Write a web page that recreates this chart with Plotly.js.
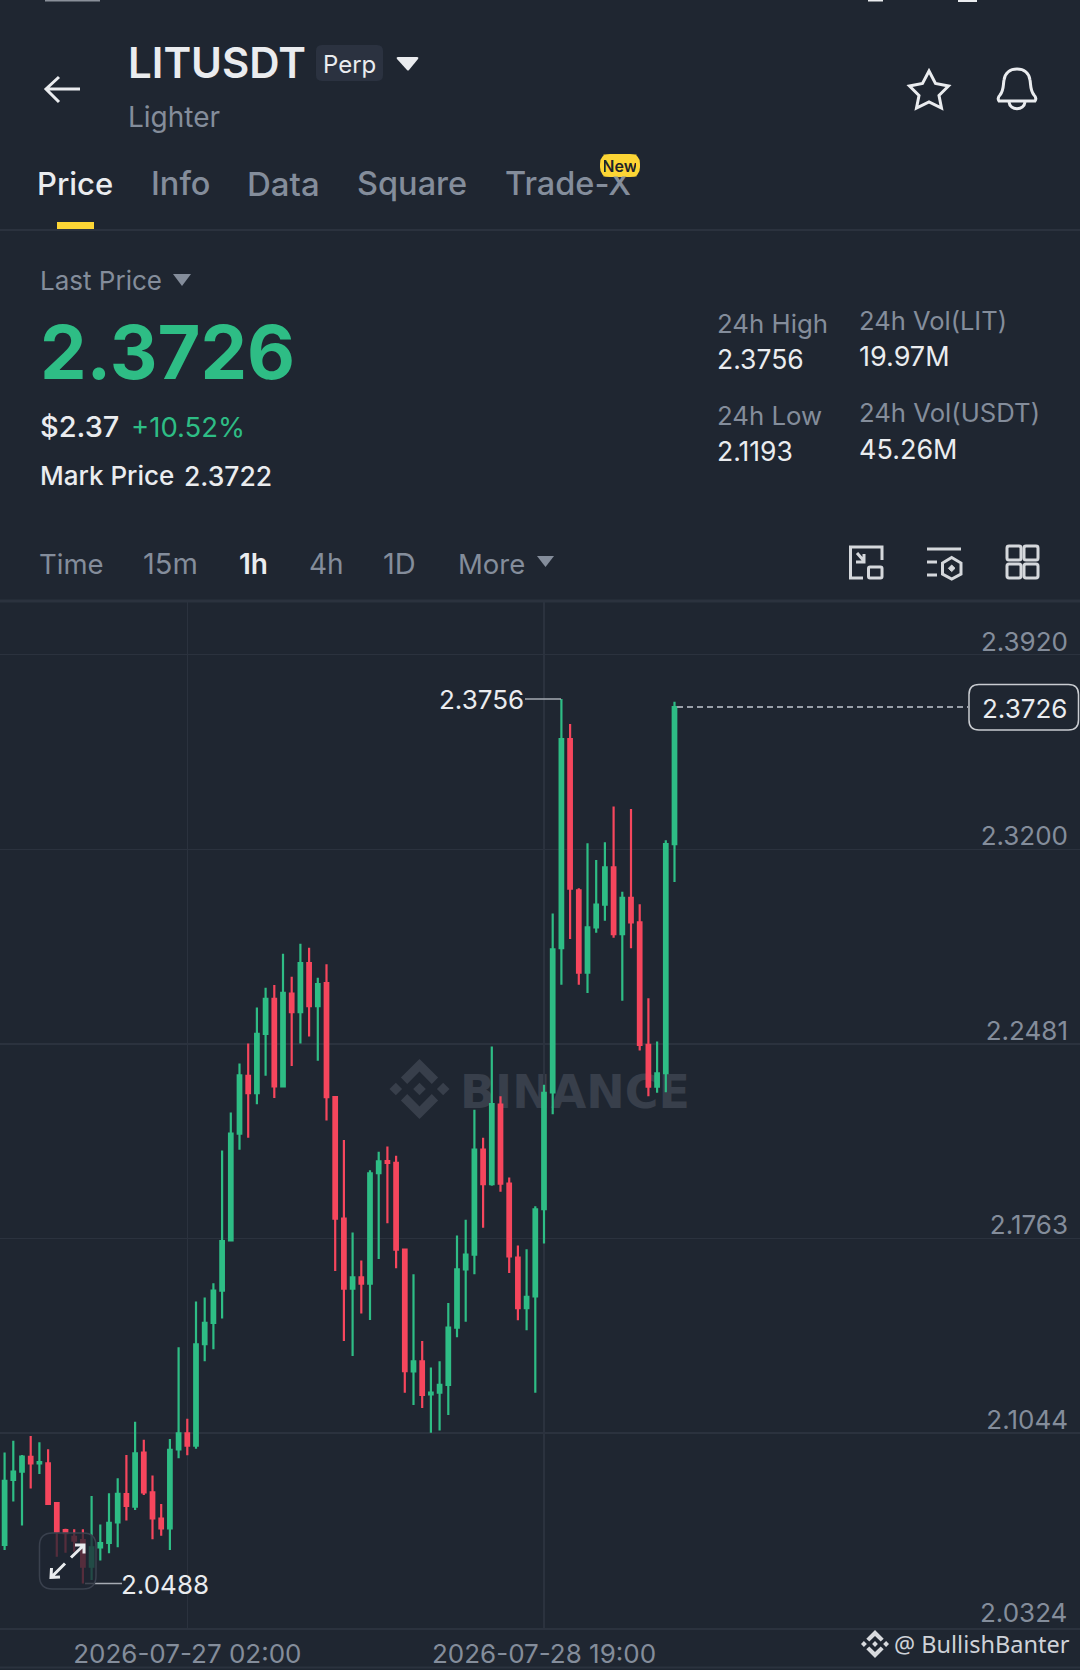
<!DOCTYPE html>
<html><head><meta charset="utf-8">
<script src="https://cdn.plot.ly/plotly-3.0.1.min.js"></script>
<style>html,body{margin:0;padding:0;background:#1f2631;width:1080px;height:1670px;overflow:hidden}#c{width:1080px;height:1670px}svg text{font-variant-numeric:tabular-nums}</style>
</head><body><div id="c"></div>
<script>
const times=["2026-07-26 05:00","2026-07-26 06:00","2026-07-26 07:00","2026-07-26 08:00","2026-07-26 09:00","2026-07-26 10:00","2026-07-26 11:00","2026-07-26 12:00","2026-07-26 13:00","2026-07-26 14:00","2026-07-26 15:00","2026-07-26 16:00","2026-07-26 17:00","2026-07-26 18:00","2026-07-26 19:00","2026-07-26 20:00","2026-07-26 21:00","2026-07-26 22:00","2026-07-26 23:00",
"2026-07-27 00:00","2026-07-27 01:00","2026-07-27 02:00","2026-07-27 03:00","2026-07-27 04:00","2026-07-27 05:00","2026-07-27 06:00","2026-07-27 07:00","2026-07-27 08:00","2026-07-27 09:00","2026-07-27 10:00","2026-07-27 11:00","2026-07-27 12:00","2026-07-27 13:00","2026-07-27 14:00","2026-07-27 15:00","2026-07-27 16:00","2026-07-27 17:00","2026-07-27 18:00","2026-07-27 19:00","2026-07-27 20:00","2026-07-27 21:00","2026-07-27 22:00","2026-07-27 23:00",
"2026-07-28 00:00","2026-07-28 01:00","2026-07-28 02:00","2026-07-28 03:00","2026-07-28 04:00","2026-07-28 05:00","2026-07-28 06:00","2026-07-28 07:00","2026-07-28 08:00","2026-07-28 09:00","2026-07-28 10:00","2026-07-28 11:00","2026-07-28 12:00","2026-07-28 13:00","2026-07-28 14:00","2026-07-28 15:00","2026-07-28 16:00","2026-07-28 17:00","2026-07-28 18:00","2026-07-28 19:00","2026-07-28 20:00","2026-07-28 21:00","2026-07-28 22:00","2026-07-28 23:00",
"2026-07-29 00:00","2026-07-29 01:00","2026-07-29 02:00","2026-07-29 03:00","2026-07-29 04:00","2026-07-29 05:00","2026-07-29 06:00","2026-07-29 07:00","2026-07-29 08:00","2026-07-29 09:00","2026-07-29 10:00"];
const opens=[2.0631,2.0871,2.0902,2.0956,2.0932,2.0932,2.0785,2.0686,2.0661,2.0649,2.0551,2.0622,2.0638,2.0714,2.0819,2.0772,2.0972,2.0825,2.0728,2.0692,2.0984,2.1043,2.0998,2.1373,2.1451,2.1570,2.1756,2.2150,2.2364,2.2300,2.2519,2.2648,2.2325,2.2668,2.2599,2.2780,2.2621,2.2706,2.2285,2.1836,2.1578,2.1619,2.1596,2.2004,2.2049,2.2042,2.1722,2.1272,2.1309,2.1187,2.1193,2.1222,2.1434,2.1649,2.1703,2.2091,2.1964,2.2258,2.1966,2.1692,2.1506,2.1549,2.1871,2.2303,2.2836,2.3608,2.3049,2.2745,2.2912,2.2996,2.3134,2.2887,2.3021,2.2931,2.2478,2.2324,2.2374,2.3220];
const highs=[2.0972,2.1016,2.0963,2.1033,2.1010,2.0984,2.0785,2.0691,2.0689,2.0689,2.0812,2.0706,2.0822,2.0877,2.0963,2.1086,2.1019,2.0887,2.0782,2.1022,2.1361,2.1097,2.1530,2.1545,2.1598,2.2088,2.2228,2.2409,2.2483,2.2616,2.2689,2.2699,2.2815,2.2730,2.2852,2.2837,2.2726,2.2776,2.2285,2.2127,2.1785,2.1682,2.2015,2.2083,2.2103,2.2069,2.1722,2.1631,2.1384,2.1286,2.1309,2.1525,2.1774,2.1832,2.2239,2.2135,2.2472,2.2288,2.1988,2.1737,2.1723,2.1882,2.2331,2.2964,2.3756,2.3664,2.3057,2.3223,2.3161,2.3227,2.3359,2.3044,2.3350,2.2998,2.2650,2.2491,2.3234,2.3746];
const lows=[2.0612,2.0791,2.0703,2.0839,2.0893,2.0782,2.0587,2.0602,2.0606,2.0488,2.0501,2.0573,2.0600,2.0622,2.0721,2.0760,2.0815,2.0652,2.0665,2.0612,2.0951,2.0962,2.0986,2.1309,2.1354,2.1467,2.1756,2.2091,2.2135,2.2259,2.2364,2.2282,2.2325,2.2400,2.2483,2.2509,2.2420,2.2199,2.1643,2.1384,2.1329,2.1486,2.1462,2.1687,2.1819,2.1653,2.1193,2.1148,2.1137,2.1045,2.1054,2.1111,2.1398,2.1455,2.1631,2.1803,2.1958,2.1936,2.1635,2.1461,2.1424,2.1193,2.1744,2.2222,2.2700,2.2869,2.2700,2.2670,2.2892,2.2937,2.2874,2.2641,2.2835,2.2457,2.2288,2.2301,2.2303,2.3080];
const closes=[2.0868,2.0902,2.0957,2.0932,2.0937,2.0782,2.0680,2.0674,2.0647,2.0551,2.0622,2.0638,2.0712,2.0820,2.0775,2.0969,2.0825,2.0729,2.0692,2.0982,2.1043,2.0998,2.1372,2.1451,2.1570,2.1753,2.2150,2.2366,2.2300,2.2519,2.2648,2.2325,2.2670,2.2599,2.2780,2.2621,2.2703,2.2285,2.1836,2.1578,2.1619,2.1596,2.2004,2.2048,2.2042,2.1722,2.1273,2.1309,2.1185,2.1194,2.1222,2.1434,2.1649,2.1703,2.2091,2.1964,2.2259,2.1966,2.1697,2.1506,2.1547,2.1871,2.2301,2.2831,2.3608,2.3055,2.2745,2.2912,2.2996,2.3134,2.2887,2.3021,2.2931,2.2478,2.2324,2.2373,2.3220,2.3726];
const priceTicks=[2.0324,2.1044,2.1763,2.2481,2.3200,2.3920];
const priceLabels=["2.0324","2.1044","2.1763","2.2481","2.3200","2.3920"];
const timeTicks=["2026-07-27 02:00","2026-07-28 19:00"];
const timeLabels=["2026-07-27 02:00","2026-07-28 19:00"];
const highPrice=2.3756, lowPrice=2.0488, lastPrice=2.3726;

const W=1080,T=601,B=1628,H=B-T;
const FONT='Inter, "Noto Sans", sans-serif';
const GREEN='#2ebd85',RED='#f6465d',BG='#1f2631',GRID='#2b323e',GRAY='#848d9b',WHITE='#eaecef';
const px=x=>+(x/W).toFixed(5), py=y=>+((B-y)/H).toFixed(5);
function P(d){let i=0;return d.replace(/-?\d+(\.\d+)?/g,m=>{const v=parseFloat(m);return (i++%2===0)?px(v):py(v);});}
const shapes=[],ann=[];
function path(d,o={}){shapes.push({type:'path',xref:'paper',yref:'paper',path:P(d),layer:o.layer||'above',fillcolor:o.fill||'rgba(0,0,0,0)',line:{color:o.color||WHITE,width:o.width===undefined?3:o.width}});}
function rr(x0,y0,x1,y1,r){return `M${x0+r} ${y0} L${x1-r} ${y0} Q${x1} ${y0} ${x1} ${y0+r} L${x1} ${y1-r} Q${x1} ${y1} ${x1-r} ${y1} L${x0+r} ${y1} Q${x0} ${y1} ${x0} ${y1-r} L${x0} ${y0+r} Q${x0} ${y0} ${x0+r} ${y0} Z`;}
function txt(text,x,y,size,color,o={}){const left=!(o.extra&&o.extra.xanchor);ann.push(Object.assign({text,xref:'paper',yref:'paper',x:px(left?x-2:x),y:py(y),xanchor:'left',yanchor:'middle',showarrow:false,borderpad:0,font:{family:FONT,size,color,weight:o.weight||400}},o.extra||{}));}
function logo(cx,cy,s,color,layer){const c=(pts)=>pts.map((p,i)=>(i?'L':'M')+(cx+p[0]*s).toFixed(1)+' '+(cy+p[1]*s).toFixed(1)).join(' ')+' Z';
 const o={fill:color,width:0,layer,color:color};
 path(c([[0,-.21],[.21,0],[0,.21],[-.21,0]]),o);
 path(c([[-1,0],[-.79,-.21],[-.58,0],[-.79,.21]]),o);
 path(c([[1,0],[.79,-.21],[.58,0],[.79,.21]]),o);
 path(c([[0,-1],[.62,-.38],[.41,-.17],[0,-.58],[-.41,-.17],[-.62,-.38]]),o);
 path(c([[0,1],[.62,.38],[.41,.17],[0,.58],[-.41,.17],[-.62,.38]]),o);}

// status bar remnants
path('M45 0 L100 0 L100 1.5 L45 1.5 Z',{fill:'#8a909a',width:0});
path('M868 0 L883 0 L883 1.5 L868 1.5 Z',{fill:WHITE,width:0});
path('M958 0 L977 0 L977 2 L958 2 Z',{fill:WHITE,width:0});
// header
path('M80 89 L46 89 M59 77 L46 89 L59 102',{width:3});
txt('LITUSDT',129,63,42,WHITE,{weight:600});
path(rr(316,45,383,81,6),{fill:'#2b3240',width:0});
txt('Perp',349.5,64,24,WHITE,{extra:{xanchor:'center'}});
path('M398 57 L417 57 Q419 57 418 59 L409 70 Q408 71 407 70 L397 59 Q396 57 398 57 Z',{fill:WHITE,width:0});
txt('Lighter',129,117,28,GRAY);
path('M929 71 L935.5 83.5 L948.5 86 L939 95.5 L941.5 108 L929 102 L916.5 108 L919 95.5 L909.5 86 L922.5 83.5 Z',{width:3});
path('M999 101 L1035 101 Q1037 98 1034 95 C1030 90 1031 85 1030 80 C1029 73 1024 69 1017 69 C1010 69 1005 73 1004 80 C1003 85 1004 90 1000 95 Q997 98 999 101 Z',{width:3});
path('M1009 102 C1010 111 1024 111 1025 102',{width:3});
// tabs
txt('Price',38,184,31,WHITE,{weight:500});
txt('Info',152,184,32.5,GRAY,{weight:500});
txt('Data',248,184,33,GRAY,{weight:500});
txt('Square',358,184,32.5,GRAY,{weight:500});
txt('Trade-X',506,184,32.5,GRAY,{weight:500});
path(rr(600,154,640,177,10),{fill:'#fcd535',width:0});
txt('New',620,165.5,16,'#1e2329',{weight:600,extra:{xanchor:'center',bgcolor:'#fcd535',width:32,height:21}});
path('M57 222 L94 222 L94 229 L57 229 Z',{fill:'#fcd535',width:0});
path('M0 230 L1080 230',{color:GRID,width:2});
// price block
txt('Last Price',41,281,26,GRAY);
path('M173 274 L191 274 L182 286 Z',{fill:GRAY,width:0});
txt('2.3726',41,352,74,GREEN,{weight:700});
txt('$2.37',41,427,29,WHITE,{weight:500});
txt('+10.52%',132,427,27.5,GREEN);
txt('Mark Price',41,475.5,26,WHITE,{weight:500});
txt('2.3722',185,475.5,26.5,WHITE,{weight:500});
txt('24h High',718,323,25.8,GRAY);
txt('2.3756',718,359,26.5,WHITE);
txt('24h Low',718,415,25.8,GRAY);
txt('2.1193',718,451,26.5,WHITE);
txt('24h Vol(LIT)',860,321,25.5,GRAY);
txt('19.97M',860,357,27,WHITE);
txt('24h Vol(USDT)',860,413,25.7,GRAY);
txt('45.26M',860,449,27,WHITE);
// interval row
txt('Time',40,563.5,27.5,GRAY);
txt('15m',144,563.5,29,GRAY);
txt('1h',240,563.5,28,WHITE,{weight:600});
txt('4h',310,563.5,28,GRAY);
txt('1D',384,563.5,29,GRAY);
txt('More',459,563.5,27.5,GRAY);
path('M537 556 L554 556 L545.5 567 Z',{fill:GRAY,width:0});
const IC='#d5d8dc';
path('M863 578 L850.5 578 L850.5 547 L882 547 L882 560',{color:IC,width:3});
path(rr(868.5,567,882,578,1.5),{color:IC,width:3});
path('M857 553 L864 561 M864 554 L864 562 L856 562',{color:IC,width:3});
path('M927 549 L961 549 M927 562 L937 562 M927 575 L937 575',{color:IC,width:3});
path('M951.7 557.5 L961 563 L961 574 L951.7 579 L942.5 574 L942.5 563 Z',{color:IC,width:3});
path('M951.7 565 L955 568.3 L951.7 571.6 L948.4 568.3 Z',{fill:IC,color:IC,width:1});
[[1007,546],[1024,546],[1007,564],[1024,564]].forEach(p=>path(rr(p[0],p[1],p[0]+14,p[1]+14,2),{color:IC,width:3}));
path('M0 601 L1080 601',{color:GRID,width:3});
// watermark
logo(419.5,1089,30,'#383f4b','below');
shapes.push({type:'rect',xref:'paper',yref:'paper',x0:px(458),x1:px(692),y0:py(1073),y1:py(1105),layer:'below',line:{width:0},fillcolor:'rgba(0,0,0,0)',
 label:{text:'BINANCE',textposition:'middle center',font:{family:'"DejaVu Sans", sans-serif',size:46,color:'#383f4b',weight:700}}});
// high / low leaders
shapes.push({type:'line',xref:'paper',yref:'y',x0:px(525),x1:px(561),y0:highPrice,y1:highPrice,line:{color:'#a6abb3',width:1.5}});
shapes.push({type:'line',xref:'paper',yref:'y',x0:px(85),x1:px(122),y0:lowPrice,y1:lowPrice,line:{color:'#a6abb3',width:1.5}});
ann.push({text:highPrice.toFixed(4),xref:'paper',yref:'y',x:px(524.5),y:highPrice,yshift:-1,xanchor:'right',yanchor:'middle',showarrow:false,borderpad:0,font:{family:FONT,size:26,color:WHITE}});
ann.push({text:lowPrice.toFixed(4),xref:'paper',yref:'y',x:px(120),y:lowPrice,yshift:-1,xanchor:'left',yanchor:'middle',showarrow:false,borderpad:0,font:{family:FONT,size:26,color:WHITE}});
// last price
shapes.push({type:'line',xref:'paper',yref:'y',x0:px(677),x1:px(968),y0:lastPrice,y1:lastPrice,line:{color:'#9aa0aa',width:2,dash:'6px,4px'}});
path(rr(969,684.5,1078.5,730,10),{fill:BG,color:'#c9ccd1',width:1.5});
ann.push({text:lastPrice.toFixed(4),xref:'paper',yref:'y',x:px(1067.5),y:lastPrice,yshift:-1,xanchor:'right',yanchor:'middle',showarrow:false,borderpad:0,font:{family:FONT,size:26,color:WHITE}});
// lowest price label sits on the axis itself, so plotly would hide it as a tick label
ann.push({text:priceLabels[0],xref:'paper',yref:'y',x:px(1067.5),y:priceTicks[0],yshift:15.5,xanchor:'right',yanchor:'middle',showarrow:false,borderpad:0,font:{family:FONT,size:26,color:GRAY}});
// expand button
path(rr(39.5,1533,96,1589,13),{fill:'rgba(31,38,49,0.75)',color:'#3a414e',width:1.5});
path('M65 1563.5 L51 1577.5 M51.5 1568 L51 1577.5 L60 1577',{width:3});
path('M71 1557.5 L84 1545 M75 1545 L84 1545 L84 1553.5',{width:3});
// footer
logo(875,1644,14,'#d8dade','above');
txt('@ BullishBanter',895,1644,23.5,'#cfd2d8',{extra:{font:{family:'"Noto Sans", sans-serif',size:23.5,color:'#cfd2d8'}}});
path('M0 1667.5 L1080 1667.5',{color:GRID,width:2});

const trace={type:'candlestick',x:times,open:opens,high:highs,low:lows,close:closes,
 increasing:{line:{color:GREEN,width:2.2},fillcolor:GREEN},
 decreasing:{line:{color:RED,width:2.2},fillcolor:RED},
 whiskerwidth:0,hoverinfo:'skip',showlegend:false};
const layout={width:W,height:1670,margin:{l:0,r:0,t:T,b:1670-B,pad:0},paper_bgcolor:BG,plot_bgcolor:'rgba(0,0,0,0)',showlegend:false,
 dragmode:false,boxgap:0.42,shapes,annotations:ann,
 xaxis:{type:'date',range:['2026-07-26 04:28:16','2026-07-31 08:36:36'],rangeslider:{visible:false},tickmode:'array',tickvals:timeTicks,ticktext:timeLabels,
  showgrid:true,gridcolor:GRID,gridwidth:1.5,zeroline:false,showline:true,linecolor:GRID,linewidth:2,ticks:'outside',ticklen:2,tickcolor:'rgba(0,0,0,0)',tickfont:{family:FONT,size:26,color:GRAY}},
 yaxis:{side:'right',range:[2.0324,2.4118],tickmode:'array',tickvals:priceTicks,ticktext:priceLabels.map((t,i)=>i?t:''),ticklabelposition:'inside top',ticklabelstandoff:9,ticklabelshift:5,
  showgrid:true,gridcolor:GRID,gridwidth:1.5,zeroline:false,showline:false,ticks:'',tickfont:{family:FONT,size:26,color:GRAY}}};
Plotly.newPlot('c',[trace],layout,{staticPlot:true,displayModeBar:false});
</script></body></html>
